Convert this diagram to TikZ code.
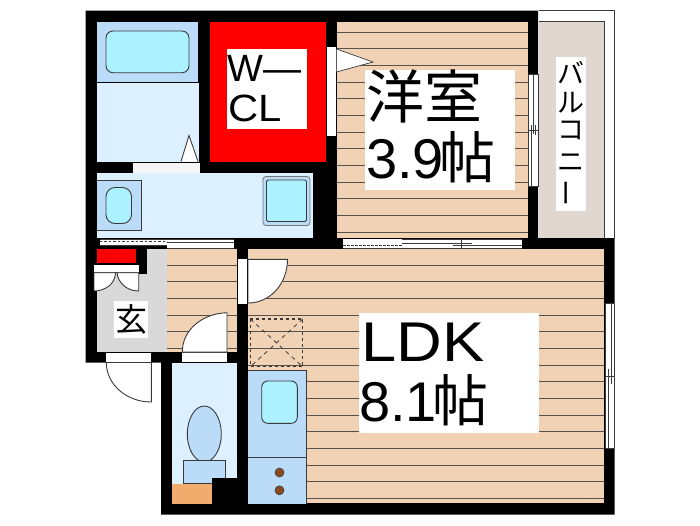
\documentclass[tikz,border=0pt]{standalone}
\usepackage{fontspec}
\setmainfont{Liberation Sans}
\newfontfamily\cjk{Noto Sans CJK JP}
\definecolor{wood}{HTML}{F1D2B5}
\definecolor{bathlight}{HTML}{DDF0FF}
\definecolor{bathmid}{HTML}{BBDCF8}
\definecolor{water}{HTML}{ABF1FF}
\definecolor{hallgray}{HTML}{D9D9D9}
\definecolor{balc}{HTML}{E0D8D0}
\definecolor{orangebox}{HTML}{F0AC6C}
\definecolor{burner}{HTML}{8B4A1E}
\definecolor{stroke}{HTML}{3A3A3A}
\tikzset{
  line/.style={draw=stroke,line width=0.9pt},
  leaf/.style={fill=white,draw=stroke,line width=0.9pt},
  thin/.style={draw=stroke,line width=0.6pt},
  txt/.style={inner sep=0pt,anchor=base west,text=black},
  fl/.style={line width=1pt,draw=stroke!85!wood}
}
\begin{document}
\begin{tikzpicture}[x=1pt,y=-1pt]
\useasboundingbox (0,0) rectangle (700,525);
\fill[white] (0,0) rectangle (700,525);
% walls
\fill[black] (85.5,10.5)--(538,10.5)--(538,238)--(614.5,238)--(614.5,514.5)--(161,514.5)--(161,362.5)--(85.5,362.5)--cycle;
% balcony
\fill[white] (539,11)--(614.5,11)--(614.5,238)--(539,238)--cycle;
\draw[draw=stroke,line width=0.7pt] (539,10.5)--(614.5,10.5)--(614.5,238);
\fill[balc] (539,21.5) rectangle (604.3,238);
\draw[draw=stroke,line width=0.7pt] (539,21.3)--(604.3,21.3)--(604.3,238);
% western room floor
\fill[wood] (336.5,21.5) rectangle (528,238);
\foreach \i in {0,...,12} \draw[fl] (336.5,32.3+16.65*\i)--(528,32.3+16.65*\i);
% LDK floor
\fill[wood] (248,249) rectangle (604,503);
\foreach \i in {0,...,14} \draw[fl] (248,265.3+16.65*\i)--(604,265.3+16.65*\i);
% hall floor
\fill[wood] (167,249) rectangle (237,351.5);
\foreach \i in {0,...,5} \draw[fl] (167,265.3+16.65*\i)--(237,265.3+16.65*\i);
% bath
\fill[bathmid] (96.5,21.5) rectangle (198.3,82);
\fill[bathlight] (96.5,83) rectangle (199,161.5);
\draw[line,rounded corners=7pt,fill=water] (106,31) rectangle (189,72.7);
\draw[leaf] (181,161.5)--(189,135.5)--(198,161.5);
\fill[white!96!black] (133,163) rectangle (200,172.5);
% walk-in closet
\fill[red] (210,21.5) rectangle (325.5,161.5);
\fill[white] (326.5,47) rectangle (336,136);
\filldraw[fill=white,draw=stroke,line width=0.7pt] (336.5,49)--(373,62)--(336.5,72);
\node[fill=white,minimum width=80pt,minimum height=80pt,inner sep=0pt] (wcl) at (267,89) {};
\node[txt,font=\fontsize{38}{38}\selectfont] (wclA) at (227,81) {W—};
\node[txt,font=\fontsize{38}{38}\selectfont] (wclB) at (228,121) {\scalebox{1.1}[1]{CL}};
% washroom
\fill[bathlight] (96.5,173) rectangle (312.7,238);
\draw[thin,fill=bathmid] (96.5,180) -- (141.5,180) -- (141.5,230.5) -- (96.5,230.5);
\draw[line,rounded corners=9pt,fill=water] (106,187.5) rectangle (131.5,223.5);
\draw[draw=stroke!70!white,line width=0.8pt,rounded corners=3pt,fill=bathmid] (263,176.5) rectangle (310,225.5);
\draw[line,rounded corners=1.5pt,fill=water] (266.5,180) rectangle (306.5,221.5);
% sliding door under washroom
\fill[white] (99.5,239) rectangle (167,245.7);
\fill[white] (167,239) rectangle (234,248.2);
\draw[draw=stroke,line width=0.5pt] (99.5,239)--(234,239);
\draw[draw=stroke,line width=1pt,dash pattern=on 2.5pt off 2pt] (99.5,241.8)--(167,241.8);
\draw[draw=stroke,line width=0.5pt] (99.5,245)--(167,245);
\draw[draw=stroke,line width=0.5pt] (167,242.5)--(234,242.5);
\draw[draw=stroke,line width=0.5pt] (167,248)--(234,248);
% entrance
\fill[hallgray] (96.5,249) rectangle (166.5,351.7);
\fill[red] (96.5,249) rectangle (136,263.5);
\fill[black] (136,249) rectangle (146.7,274);
\fill[black] (96.5,263) rectangle (140,265);
\fill[white] (94,264.5) rectangle (138.7,272.7);
\draw[leaf] (94,272.7)--(138.7,272.7);
\draw[leaf] (94,272.7)--(115.5,272.7) .. controls (115.5,283) and (106,291) .. (94,291)--cycle;
\draw[leaf] (138.7,272.7)--(117,272.7) .. controls (118,283) and (127,291) .. (138.7,291)--cycle;
\node[fill=white,minimum width=33.4pt,minimum height=37.6pt,inner sep=0pt,font=\cjk\fontsize{32}{32}\selectfont] (gen) at (131,319.5) {玄};
% doors
\fill[white] (106.3,352.5) rectangle (151.3,362.3);
\draw[leaf] (151.3,362.5)--(151.3,402) .. controls (126,402) and (106.3,384) .. (106.3,362.5)--cycle;
\fill[white] (182.3,352.5) rectangle (227,362.3);
\draw[line] (182.3,352)--(227,352);
\draw[leaf] (227,352)--(227,312.7) .. controls (202,313.5) and (182.3,330) .. (182.3,352)--cycle;
\fill[white] (238,259.3) rectangle (247.3,304);
\draw[leaf] (248,259.3)--(287.5,259.3) .. controls (287.5,284) and (270,303) .. (248,303)--cycle;
% toilet
\fill[bathlight] (172,363) rectangle (237,484);
\draw[line,fill=bathmid] (204.3,434) ellipse (17 and 28);
\draw[line,fill=bathmid] (212,483.5)--(225.7,483.5)--(225.7,460.3)--(183.7,460.3)--(183.7,483.5)--(212,483.5);
\fill[black] (212,478) rectangle (237,503.5);
\fill[orangebox] (172,484) rectangle (212,503.5);
% kitchen
\fill[bathmid] (248,370) rectangle (306,503.5);
\draw[line,line width=0.6pt] (248,370)--(306,370)--(306,503.5);
\draw[line,line width=0.6pt] (248,457.3)--(306,457.3);
\draw[line,rounded corners=6pt,fill=water] (261.7,381) rectangle (297.3,423.3);
\draw[thin,fill=burner] (279.5,472.5) circle (4.5);
\draw[thin,fill=burner] (279.5,490.3) circle (4.5);
% dashed box
\draw[draw=stroke,line width=1.1pt,dash pattern=on 3pt off 3pt] (250.3,319) rectangle (302.7,366.7);
\draw[draw=stroke,line width=0.8pt,dash pattern=on 4pt off 4pt] (250.3,319)--(302.7,366.7) (302.7,319)--(250.3,366.7);
% windows and sliding doors
\fill[white] (342.7,238.7) rectangle (521.7,248.3);
\draw[draw=stroke,line width=0.5pt] (402,238.9)--(521.7,238.9);
\draw[draw=stroke,line width=1pt,dash pattern=on 2.5pt off 1.5pt] (343,245.5)--(402,245.5);
\draw[draw=stroke,line width=0.5pt] (402,243)--(472,243);
\draw[draw=stroke,line width=0.5pt] (343,248)--(521.7,248);
\draw[draw=stroke,line width=0.8pt] (453,245.7)--(521.7,245.7);
\draw[draw=stroke,line width=0.6pt] (461.7,238.7)--(461.7,248.3);
\fill[white] (528.7,74) rectangle (538.3,186);
\draw[draw=stroke,line width=0.5pt] (528.7,74) rectangle (538.3,186) (533.5,74)--(533.5,134) (531.5,125)--(531.5,186) (528.7,130)--(538.3,130) (535,125)--(535,135);
\fill[white] (605,303.3) rectangle (614,448.3);
\draw[draw=stroke,line width=0.5pt] (605,303.3) rectangle (614,448.3) (611,303.3)--(611,384) (608,369)--(608,448.3) (605,376)--(614,376);
% labels
\node[fill=white,minimum width=150pt,minimum height=120pt,inner sep=0pt] (yo) at (440,130) {};
\node[txt,font=\cjk\fontsize{58}{58}\selectfont] (yoA) at (366,118) {洋室};
\node[txt,font=\fontsize{56}{56}\selectfont] (yoB) at (366,178) {3.9};
\node[txt,font=\cjk\fontsize{56}{56}\selectfont] (yoC) at (439,178) {帖};
\node[fill=white,minimum width=180pt,minimum height=120pt,inner sep=0pt] (ldk) at (449,373.3) {};
\node[txt,font=\fontsize{56}{56}\selectfont] (ldkA) at (361,361) {\scalebox{1.13}[1]{LDK}};
\node[txt,font=\fontsize{56}{56}\selectfont] (ldkB) at (359,421) {8.1};
\node[txt,font=\cjk\fontsize{56}{56}\selectfont] (ldkC) at (432,421) {帖};
\node[fill=white,minimum width=30pt,minimum height=153.4pt,inner sep=0pt] (bal) at (571,134) {};
\node[inner sep=0pt,font=\cjk\fontsize{27}{27}\selectfont] (b1) at (571,73) {バ};
\node[inner sep=0pt,font=\cjk\fontsize{27}{27}\selectfont] (b2) at (571,103) {ル};
\node[inner sep=0pt,font=\cjk\fontsize{27}{27}\selectfont] (b3) at (571,130) {コ};
\node[inner sep=0pt,font=\cjk\fontsize{27}{27}\selectfont] (b4) at (571,163) {ニ};
\node[inner sep=0pt,font=\cjk\fontsize{27}{27}\selectfont] (b5) at (571,193) {\rotatebox{90}{ー}};
\end{tikzpicture}
\end{document}
